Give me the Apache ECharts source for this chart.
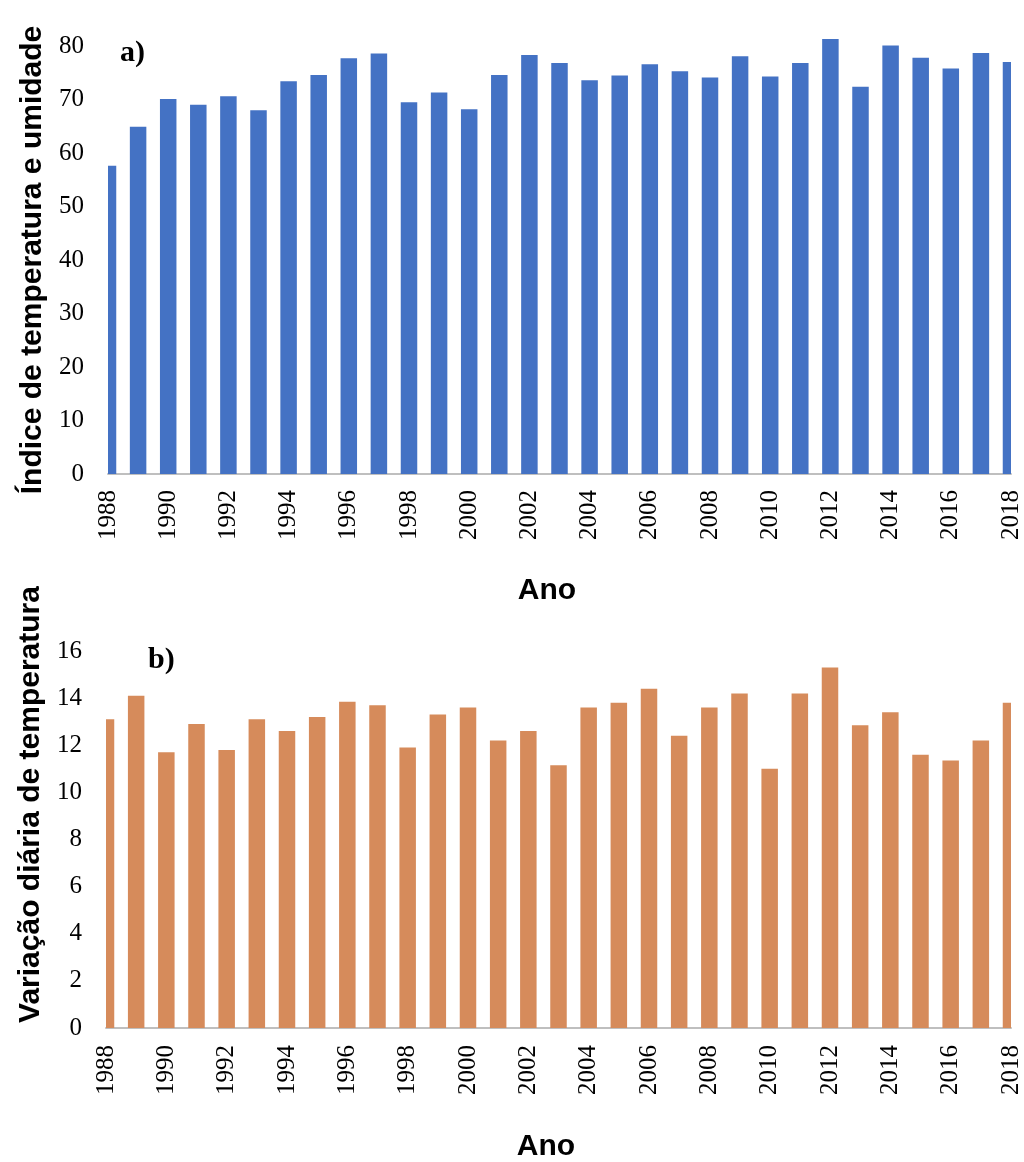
<!DOCTYPE html>
<html>
<head>
<meta charset="utf-8">
<script src="https://cdn.jsdelivr.net/npm/echarts@6/dist/echarts.min.js"></script>
<style>
html,body{margin:0;padding:0;background:#fff;}
#chart{width:1024px;height:1162px;}
</style>
</head>
<body>
<div id="chart"></div>
<script>
const years = ['1988','1989','1990','1991','1992','1993','1994','1995','1996','1997','1998','1999','2000','2001','2002','2003','2004','2005','2006','2007','2008','2009','2010','2011','2012','2013','2014','2015','2016','2017','2018'];
const ituValues = [57.6,64.9,70.1,69.0,70.6,68.0,73.4,74.6,77.7,78.6,69.5,71.3,68.2,74.6,78.3,76.8,73.6,74.5,76.6,75.3,74.1,78.1,74.3,76.8,81.3,72.4,80.1,77.8,75.8,78.7,77.0];
const dtrValues = [13.1,14.1,11.7,12.9,11.8,13.1,12.6,13.2,13.85,13.7,11.9,13.3,13.6,12.2,12.6,11.15,13.6,13.8,14.4,12.4,13.6,14.2,11.0,14.2,15.3,12.85,13.4,11.6,11.35,12.2,13.8];
const titleA = 'Índice de temperatura e umidade';
const titleB = 'Variação diária de temperatura';
const xTitle = 'Ano';

const serif = 'Liberation Serif';
const sans = 'Liberation Sans';
const BAR_W = 16.5;

function xAxisCfg(gi, margin, gap) {
  return {
    gridIndex: gi, type: 'category', data: years, boundaryGap: false,
    axisLine: {lineStyle: {color: '#bfbfbf', width: 2}},
    axisTick: {show: false},
    axisLabel: {interval: 1, rotate: 90, margin: margin, color: '#000', fontFamily: serif, fontSize: 25},
    name: xTitle, nameLocation: 'middle', nameGap: gap,
    nameTextStyle: {fontFamily: sans, fontWeight: 'bold', fontSize: 30, color: '#000', padding: [0, 25, 0, 0]},
    splitLine: {show: false}
  };
}
function yAxisCfg(gi, max, interval, name, gap, pad) {
  return {
    gridIndex: gi, type: 'value', min: 0, max: max, interval: interval,
    axisLine: {show: false}, axisTick: {show: false}, splitLine: {show: false},
    axisLabel: {color: '#000', fontFamily: serif, fontSize: 25, margin: 24},
    name: name, nameLocation: 'middle', nameRotate: 90, nameGap: gap,
    nameTextStyle: {fontFamily: sans, fontWeight: 'bold', fontSize: 30, color: '#000', padding: pad}
  };
}

// bars centred on the category positions, clipped only at the left/right plot edges
function renderBar(params, api) {
  const idx = api.value(0);
  const val = api.value(1);
  const top = api.coord([idx, val]);
  const base = api.coord([idx, 0]);
  const cs = params.coordSys;
  const rect = echarts.graphic.clipRectByRect(
    {x: top[0] - BAR_W / 2, y: top[1], width: BAR_W, height: base[1] - top[1]},
    {x: cs.x, y: cs.y - 200, width: cs.width, height: cs.height + 400}
  );
  if (!rect) return null;
  return {type: 'rect', shape: rect, style: api.style()};
}

function toPairs(values) {
  return values.map((v, i) => [i, v]);
}

const chart = echarts.init(document.getElementById('chart'), null, {renderer: 'canvas'});
chart.setOption({
  animation: false,
  backgroundColor: '#fff',
  grid: [
    {left: 108, right: 13, top: 46, bottom: 1162 - 474, outerBoundsMode: 'none', containLabel: false},
    {left: 106, right: 13, top: 651, bottom: 1162 - 1028, outerBoundsMode: 'none', containLabel: false}
  ],
  xAxis: [xAxisCfg(0, 16, 102), xAxisCfg(1, 17, 104)],
  yAxis: [
    yAxisCfg(0, 80, 10, titleA, 57, [0, 0, 0, 0]),
    yAxisCfg(1, 16, 2, titleB, 57, [0, 0, 0, 70])
  ],
  graphic: [
    {type: 'text', left: 120, top: 38, style: {text: 'a)', font: 'bold 30px "Liberation Serif"', fill: '#000'}},
    {type: 'text', left: 148, top: 645, style: {text: 'b)', font: 'bold 30px "Liberation Serif"', fill: '#000'}}
  ],
  series: [
    {type: 'custom', xAxisIndex: 0, yAxisIndex: 0, data: toPairs(ituValues),
     encode: {x: 0, y: 1}, renderItem: renderBar, itemStyle: {color: '#4472C4'}},
    {type: 'custom', xAxisIndex: 1, yAxisIndex: 1, data: toPairs(dtrValues),
     encode: {x: 0, y: 1}, renderItem: renderBar, itemStyle: {color: '#D68B5B'}}
  ]
});
</script>
</body>
</html>
